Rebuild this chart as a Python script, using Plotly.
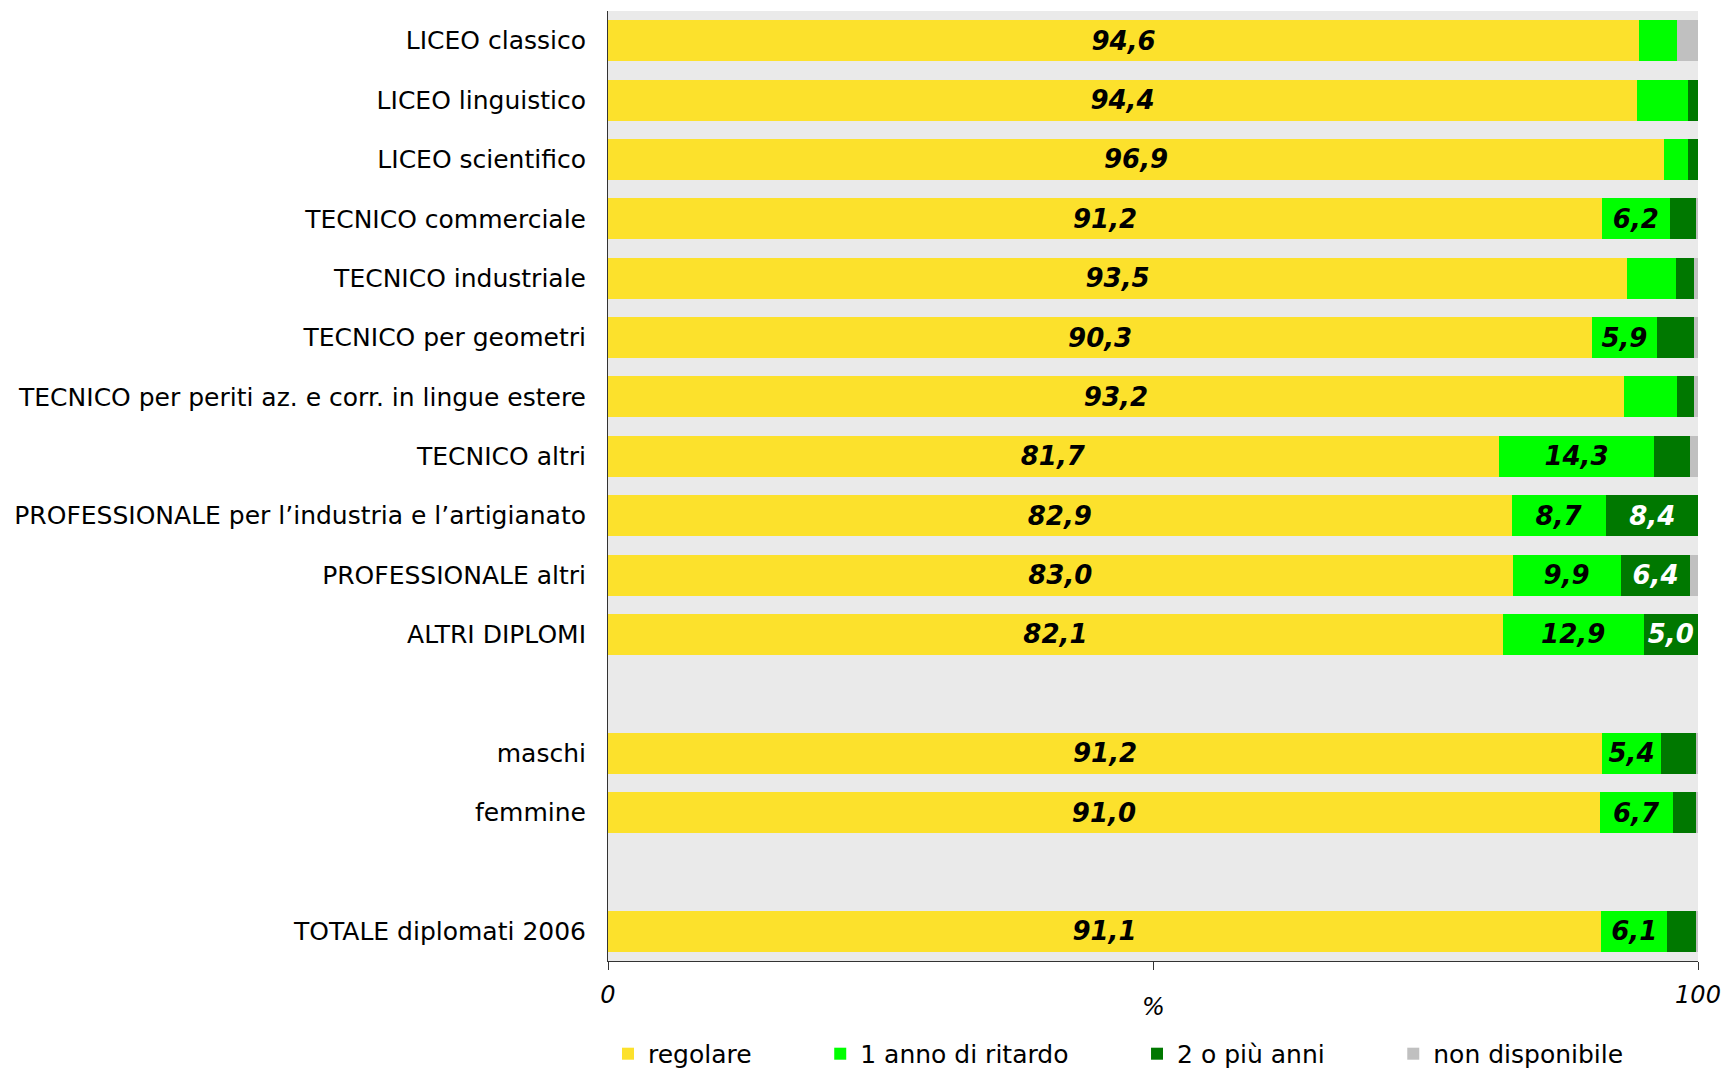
import plotly.graph_objects as go

categories = [
    "LICEO classico", "LICEO linguistico", "LICEO scientifico",
    "TECNICO commerciale", "TECNICO industriale", "TECNICO per geometri",
    "TECNICO per periti az. e corr. in lingue estere", "TECNICO altri",
    "PROFESSIONALE per l\u2019industria e l\u2019artigianato", "PROFESSIONALE altri",
    "ALTRI DIPLOMI", " ", "maschi", "femmine", "  ", "TOTALE diplomati 2006",
]
regolare =        [94.6, 94.4, 96.9, 91.2, 93.5, 90.3, 93.2, 81.7, 82.9, 83.0, 82.1, None, 91.2, 91.0, None, 91.1]
un_anno =         [3.5, 4.7, 2.2, 6.2, 4.5, 5.9, 4.9, 14.3, 8.7, 9.9, 12.9, None, 5.4, 6.7, None, 6.1]
due_o_piu =       [0.0, 0.9, 0.9, 2.4, 1.6, 3.4, 1.5, 3.3, 8.4, 6.4, 5.0, None, 3.2, 2.1, None, 2.6]
non_disponibile = [1.9, 0.0, 0.0, 0.2, 0.4, 0.4, 0.4, 0.7, 0.0, 0.7, 0.0, None, 0.2, 0.2, None, 0.2]

series_names = ["regolare", "1 anno di ritardo", "2 o pi\u00f9 anni", "non disponibile"]
series_values = [regolare, un_anno, due_o_piu, non_disponibile]
colors = ["#FCE12C", "#00FF00", "#007800", "#C0C0C0"]
text_colors = ["black", "black", "white", "black"]
legend_pad = ["\u00a0" * 8, "\u00a0" * 8, "\u00a0" * 8, ""]

def lab(v):
    if v is None or v < 5:
        return ""
    return f"{v:.1f}".replace(".", ",")

fig = go.Figure()
for name, vals, col, tcol, pad in zip(series_names, series_values, colors, text_colors, legend_pad):
    fig.add_trace(go.Bar(
        y=categories, x=vals, orientation="h", name=name + pad,
        marker=dict(color=col, line=dict(width=0)),
        text=[lab(v) for v in vals], textposition="inside",
        insidetextanchor="middle", textangle=0, constraintext="none",
        textfont=dict(family="DejaVu Sans", size=26, color=tcol, weight="bold", style="italic"),
        hoverinfo="skip",
    ))

fig.update_layout(
    barmode="stack", bargap=0.31,
    width=1724, height=1070,
    margin=dict(l=608, r=26, t=11, b=109),
    paper_bgcolor="white", plot_bgcolor="#EAEAEA",
    font=dict(family="DejaVu Sans", size=25, color="black"),
    showlegend=True,
    legend=dict(orientation="h", x=0.0, xanchor="left", yref="container", y=0.015, yanchor="middle",
                font=dict(size=25), traceorder="normal", itemwidth=30),
    xaxis=dict(range=[0, 100], tickvals=[0, 50, 100], ticktext=["0", "", "100"],
               ticks="outside", ticklen=8, tickcolor="#333", showgrid=False,
               showline=True, linecolor="#333", linewidth=1, zeroline=False, automargin=False,
               tickfont=dict(size=24, style="italic"), ticklabelstandoff=4),
    yaxis=dict(autorange="reversed", showgrid=False, showline=True, linecolor="#333",
               linewidth=1, ticks="", ticklabelstandoff=16, tickfont=dict(size=25), automargin=False),
    annotations=[dict(x=50, xref="x", y=-0.048, yref="paper", text="%", showarrow=False,
                      font=dict(size=24, style="italic"), yanchor="middle")],
)

fig.write_html("out.html", config={"displayModeBar": False},
               post_script="document.body.style.margin='0px';")
